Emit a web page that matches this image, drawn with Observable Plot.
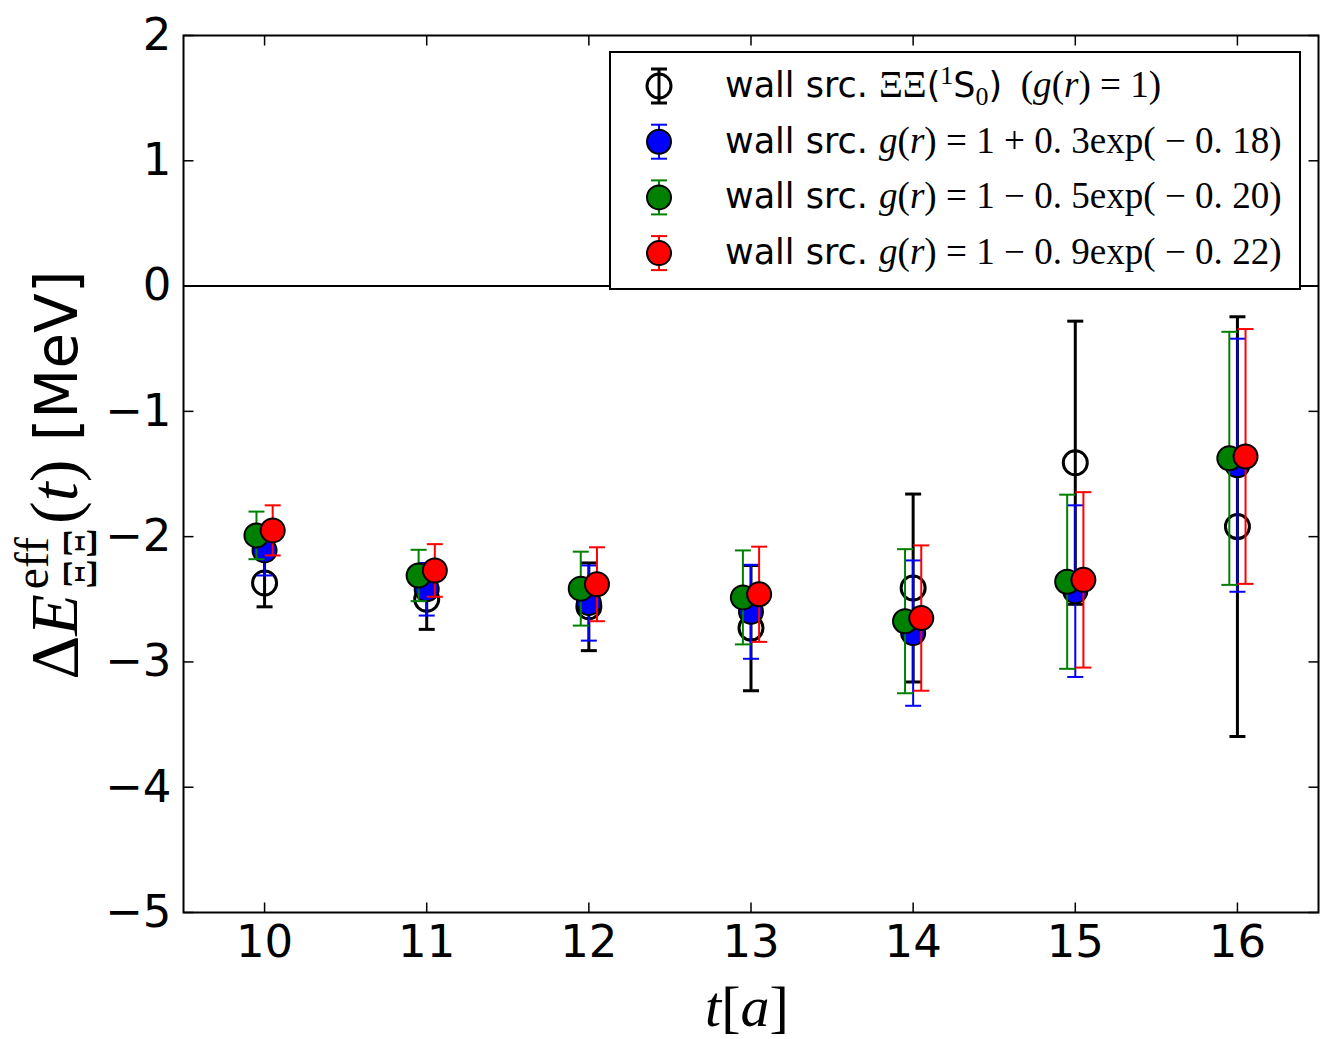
<!DOCTYPE html>
<html>
<head>
<meta charset="utf-8">
<script src="https://cdn.jsdelivr.net/npm/d3@7"></script>
<script src="https://cdn.jsdelivr.net/npm/@observablehq/plot@0.6"></script>
<style>
  body { margin: 0; background: #fff; }
  #chart { position: relative; width: 1329px; height: 1039px; }
  text { white-space: pre; }
</style>
</head>
<body>
<div id="chart"></div>
<script>
// ---- data ----
const tValues = [10, 11, 12, 13, 14, 15, 16];

const wallE   = [-2.37, -2.50, -2.56, -2.73, -2.41, -1.41, -1.92];
const wallErr = [0.19, 0.24, 0.35, 0.50, 0.75, 1.13, 1.675];

const g03E   = [-2.11, -2.42, -2.53, -2.60, -2.77, -2.435, -1.43];
const g03Err = [0.20, 0.21, 0.30, 0.375, 0.58, 0.685, 1.01];

const g05E   = [-1.99, -2.31, -2.415, -2.485, -2.675, -2.36, -1.375];
const g05Err = [0.19, 0.205, 0.295, 0.375, 0.575, 0.695, 1.01];

const g09E   = [-1.95, -2.27, -2.38, -2.46, -2.65, -2.345, -1.36];
const g09Err = [0.20, 0.21, 0.295, 0.38, 0.58, 0.70, 1.017];

const xTicks = [10, 11, 12, 13, 14, 15, 16];
const yTicks = [-5, -4, -3, -2, -1, 0, 1, 2];

const seriesNames = ["wall g(r)=1", "wall g03", "wall g05", "wall g09"];
const seriesColors = ["black", "#0000ff", "#008000", "#ff0000"];

// legend labels as rich-text segments
const legendLabels = [
  [{t: "wall src. ", f: "sans"}, {t: "ΞΞ", f: "serif"}, {t: "(", f: "sans"}, {t: "1", f: "serif", sup: true},
   {t: "S", f: "sans"}, {t: "0", f: "serif", sub: true}, {t: ")", f: "sans"}, {t: "  (", f: "serif"},
   {t: "g", f: "it"}, {t: "(", f: "serif"}, {t: "r", f: "it"}, {t: ") = 1)", f: "serif"}],
  [{t: "wall src. ", f: "sans"}, {t: "g", f: "it"}, {t: "(", f: "serif"}, {t: "r", f: "it"},
   {t: ") = 1 + 0. 3exp( − 0. 18)", f: "serif"}],
  [{t: "wall src. ", f: "sans"}, {t: "g", f: "it"}, {t: "(", f: "serif"}, {t: "r", f: "it"},
   {t: ") = 1 − 0. 5exp( − 0. 20)", f: "serif"}],
  [{t: "wall src. ", f: "sans"}, {t: "g", f: "it"}, {t: "(", f: "serif"}, {t: "r", f: "it"},
   {t: ") = 1 − 0. 9exp( − 0. 22)", f: "serif"}]
];

// ---- build series ----
const seriesDefs = [
  {vals: wallE, errs: wallErr, shift: 0,     fill: "none",          barW: 3,   dotStroke: 3},
  {vals: g03E,  errs: g03Err,  shift: 0,     fill: seriesColors[1], barW: 2,   dotStroke: 2},
  {vals: g05E,  errs: g05Err,  shift: -0.05, fill: seriesColors[2], barW: 2,   dotStroke: 2},
  {vals: g09E,  errs: g09Err,  shift: 0.05,  fill: seriesColors[3], barW: 2,   dotStroke: 2}
];

const capSym = {draw(ctx, size) { const r = Math.sqrt(size / Math.PI); ctx.moveTo(-r, 0); ctx.lineTo(r, 0); }};
const tickUp = {draw(ctx) { ctx.moveTo(0, 0); ctx.lineTo(0, -10); }};
const tickDown = {draw(ctx) { ctx.moveTo(0, 0); ctx.lineTo(0, 10); }};
const tickRight = {draw(ctx) { ctx.moveTo(0, 0); ctx.lineTo(10, 0); }};
const tickLeft = {draw(ctx) { ctx.moveTo(0, 0); ctx.lineTo(-10, 0); }};

const marks = [Plot.ruleY([0], {stroke: "black", strokeWidth: 2})];
seriesDefs.forEach((s, k) => {
  const color = seriesColors[k];
  const rows = tValues.map((t, i) => ({t: t + s.shift, v: s.vals[i], e: s.errs[i], name: seriesNames[k]}));
  marks.push(
    Plot.ruleX(rows, {x: "t", y1: d => d.v - d.e, y2: d => d.v + d.e, stroke: color, strokeWidth: s.barW}),
    Plot.dot(rows, {x: "t", y: d => d.v - d.e, symbol: capSym, r: 8, stroke: color, fill: "none", strokeWidth: s.barW}),
    Plot.dot(rows, {x: "t", y: d => d.v + d.e, symbol: capSym, r: 8, stroke: color, fill: "none", strokeWidth: s.barW}),
    Plot.dot(rows, {x: "t", y: "v", r: 12, fill: s.fill, stroke: "black", strokeWidth: s.dotStroke})
  );
});

marks.push(
  Plot.frame({stroke: "black", strokeWidth: 2}),
  Plot.dot(xTicks, {x: d => d, frameAnchor: "bottom", symbol: tickUp, stroke: "black", strokeWidth: 1.5}),
  Plot.dot(xTicks, {x: d => d, frameAnchor: "top", symbol: tickDown, stroke: "black", strokeWidth: 1.5}),
  Plot.dot(yTicks, {y: d => d, frameAnchor: "left", symbol: tickRight, stroke: "black", strokeWidth: 1.5}),
  Plot.dot(yTicks, {y: d => d, frameAnchor: "right", symbol: tickLeft, stroke: "black", strokeWidth: 1.5}),
  Plot.axisX(xTicks, {tickSize: 0, tickPadding: 13, fontSize: 45, label: null, tickFormat: d3.format("d")}),
  Plot.axisY(yTicks, {tickSize: 0, tickPadding: 12, fontSize: 45, label: null, tickFormat: d3.format("d")})
);

const chart = Plot.plot({
  width: 1329,
  height: 1039,
  marginTop: 35,
  marginBottom: 127,
  marginLeft: 183,
  marginRight: 11,
  style: {fontFamily: "DejaVu Sans", fontSize: "45px", background: "white", color: "black"},
  x: {domain: [9.5, 16.5]},
  y: {domain: [-5, 2]},
  marks
});
document.getElementById("chart").appendChild(chart);

const svg = d3.select(chart);
const SERIF = "'Liberation Serif', serif";
const SANS = "'DejaVu Sans', sans-serif";

function richText(sel, segs, base, serifScale = 1) {
  let cur = 0;
  segs.forEach(s => {
    const shift = s.sup ? -0.38 * base : s.sub ? 0.22 * base : 0;
    const scale = s.f === "sans" ? 1 : serifScale;
    const size = ((s.sup || s.sub) ? 0.7 * base : base) * scale;
    sel.append("tspan").text(s.t)
      .attr("dy", shift - cur)
      .attr("font-size", size)
      .attr("font-family", s.f === "sans" ? SANS : SERIF)
      .attr("font-style", s.f === "it" ? "italic" : "normal");
    cur = shift;
  });
}

// ---- y label ----
{
  const fs = 58, ms = 68;
  const txt = svg.append("text")
    .attr("transform", "translate(77,475) rotate(-90)")
    .attr("text-anchor", "middle")
    .attr("fill", "black");
  txt.append("tspan").text("Δ").attr("font-family", SERIF).attr("font-size", ms);
  txt.append("tspan").text("E").attr("font-family", SERIF).attr("font-style", "italic").attr("font-size", ms);
  const sup = txt.append("tspan").text("eff").attr("font-family", SERIF).attr("font-size", ms * 0.7)
    .attr("dx", 5).attr("dy", -0.42 * ms);
  const w1 = sup.node().getComputedTextLength();
  const sub = txt.append("tspan").text("ΞΞ").attr("font-family", SERIF).attr("font-size", ms * 0.7)
    .attr("dx", -w1).attr("dy", 0.42 * ms + 0.28 * ms);
  const w2 = sub.node().getComputedTextLength();
  txt.append("tspan").text("(").attr("font-family", SERIF).attr("font-size", ms)
    .attr("dx", Math.max(0, w1 - w2) + 4).attr("dy", -0.28 * ms);
  txt.append("tspan").text("t").attr("font-family", SERIF).attr("font-style", "italic").attr("font-size", ms);
  txt.append("tspan").text(")").attr("font-family", SERIF).attr("font-size", ms);
  txt.append("tspan").text(" [MeV]").attr("font-family", SANS).attr("font-size", fs);
}

// ---- x label ----
{
  const txt = svg.append("text")
    .attr("x", 747).attr("y", 1026)
    .attr("text-anchor", "middle")
    .attr("fill", "black");
  richText(txt, [{t: "t", f: "it"}, {t: "[", f: "serif"}, {t: "a", f: "it"}, {t: "]", f: "serif"}], 58);
}

// ---- legend ----
{
  const g = svg.append("g");
  g.append("rect").attr("x", 610).attr("y", 52).attr("width", 690).attr("height", 237)
    .attr("fill", "white").attr("stroke", "black").attr("stroke-width", 2);
  legendLabels.forEach((segs, i) => {
    const cy = 86 + i * 55.7;
    const color = seriesColors[i];
    const def = seriesDefs[i];
    g.append("line").attr("x1", 659).attr("x2", 659).attr("y1", cy - 17).attr("y2", cy + 17)
      .attr("stroke", color).attr("stroke-width", def.barW);
    [cy - 17, cy + 17].forEach(yy => g.append("line").attr("x1", 651).attr("x2", 667).attr("y1", yy).attr("y2", yy)
      .attr("stroke", color).attr("stroke-width", def.barW));
    g.append("circle").attr("cx", 659).attr("cy", cy).attr("r", 12)
      .attr("fill", def.fill).attr("stroke", "black").attr("stroke-width", def.dotStroke);
    const txt = g.append("text").attr("x", 725).attr("y", cy + 11)
      .attr("text-anchor", "start").attr("fill", "black");
    richText(txt, segs, 35, 1.06);
  });
}
</script>
</body>
</html>
